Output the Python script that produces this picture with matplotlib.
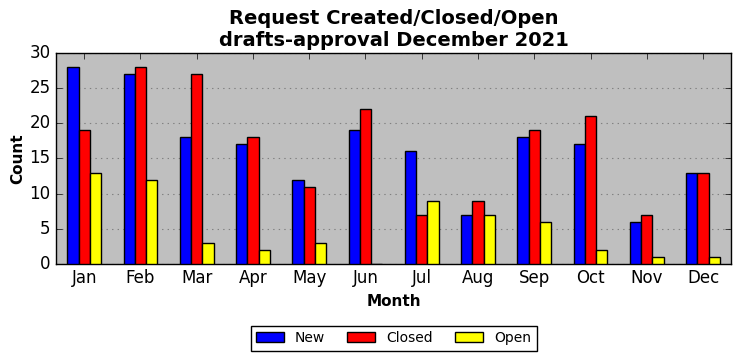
import matplotlib
matplotlib.use("Agg")
import matplotlib.pyplot as plt
import numpy as np

months = ["Jan", "Feb", "Mar", "Apr", "May", "Jun",
          "Jul", "Aug", "Sep", "Oct", "Nov", "Dec"]
new = [28, 27, 18, 17, 12, 19, 16, 7, 18, 17, 6, 13]
closed = [19, 28, 27, 18, 11, 22, 7, 9, 19, 21, 7, 13]
open_ = [13, 12, 3, 2, 3, 0, 9, 7, 6, 2, 1, 1]

plt.style.use("classic")
fig = plt.figure(figsize=(7.42, 3.61), dpi=100)
ax = fig.add_axes([0.0755, 0.269, 0.91, 0.584])
ax.set_facecolor("#bfbfbf")

x = np.arange(len(months))
w = 0.2
series = [("New", new, "blue"), ("Closed", closed, "red"), ("Open", open_, "yellow")]
for i, (name, vals, col) in enumerate(series):
    ax.bar(x + (i - 1) * w, vals, width=w, color=col, edgecolor="black",
           linewidth=1, label=name, align="center", zorder=3)

ax.set_xlim(-0.5, len(months) - 0.5)
ax.set_ylim(0, 30)
ax.set_xticks(x)
ax.set_xticklabels(months, fontsize=12)
ax.tick_params(axis="y", labelsize=12)
ax.yaxis.grid(True, linestyle=":", color="#808080", linewidth=0.8, zorder=0)
ax.set_axisbelow(True)
ax.set_xlabel("Month", fontsize=11, fontweight="bold")
ax.set_ylabel("Count", fontsize=11, fontweight="bold", labelpad=3)
ax.set_title("Request Created/Closed/Open\ndrafts-approval December 2021",
             fontsize=14, fontweight="bold")
ax.legend(loc="upper center", bbox_to_anchor=(0.5, -0.26), ncol=3,
          fontsize=10, frameon=True, handlelength=2.0, columnspacing=1.6)

fig.savefig("out.png", dpi=100, facecolor="white")
